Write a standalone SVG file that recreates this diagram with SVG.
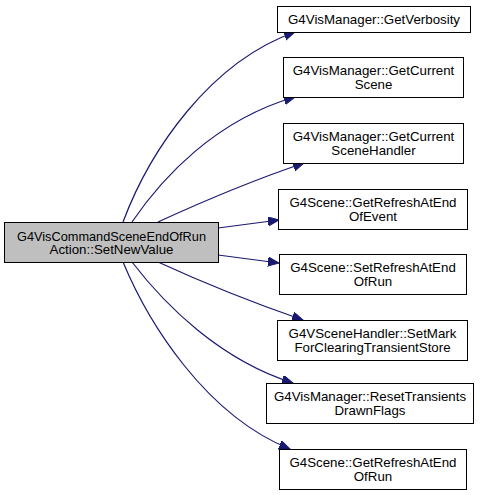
<svg xmlns="http://www.w3.org/2000/svg" width="483" height="495" viewBox="0 0 483 495">
<style>
.box{fill:#ffffff;stroke:#000000;stroke-width:1}
.main{fill:#bfbfbf;stroke:#000000;stroke-width:1}
text{font-family:"Liberation Sans",Arial,sans-serif;font-size:13.3px;fill:#000000;text-anchor:middle}
.edge{fill:none;stroke:#191970;stroke-width:1.2}
</style>
<defs>
<marker id="arr" markerUnits="userSpaceOnUse" markerWidth="12" markerHeight="10" refX="11" refY="4.5" orient="auto">
<path d="M0,0 L11,4.5 L0,9 z" fill="#191970" stroke="#191970" stroke-width="1"/>
</marker>
</defs>
<rect width="483" height="495" fill="#ffffff"/>
<g id="connectors">
<path class="edge" marker-end="url(#arr)" d="M123,222 C150,150 210,62 295,32"/>
<path class="edge" marker-end="url(#arr)" d="M132,222 C162,178 215,120 295,97"/>
<path class="edge" marker-end="url(#arr)" d="M158,222 C195,205 245,183 304,163"/>
<path class="edge" marker-end="url(#arr)" d="M218,228 L279,220"/>
<path class="edge" marker-end="url(#arr)" d="M218,255 L279,263"/>
<path class="edge" marker-end="url(#arr)" d="M158,262 C195,279 245,300 303,320"/>
<path class="edge" marker-end="url(#arr)" d="M132,262 C165,305 220,360 293,383"/>
<path class="edge" marker-end="url(#arr)" d="M123,262 C148,322 205,415 290,449"/>
</g>
<g id="node-main">
<rect class="main" x="4.5" y="222.5" width="214" height="40"/>
<text x="111.5" y="240.5" textLength="189" lengthAdjust="spacingAndGlyphs">G4VisCommandSceneEndOfRun</text>
<text x="111.5" y="254">Action::SetNewValue</text>
</g>
<g id="node-getverbosity">
<rect class="box" x="277.5" y="6.5" width="193" height="26"/>
<text x="374" y="24">G4VisManager::GetVerbosity</text>
</g>
<g id="node-getcurrentscene">
<rect class="box" x="283.5" y="57.5" width="180" height="40"/>
<text x="373.5" y="75">G4VisManager::GetCurrent</text>
<text x="373.5" y="88.5">Scene</text>
</g>
<g id="node-getcurrentscenehandler">
<rect class="box" x="283.5" y="123.5" width="180" height="40"/>
<text x="373.5" y="141">G4VisManager::GetCurrent</text>
<text x="373.5" y="154.5">SceneHandler</text>
</g>
<g id="node-getrefreshendofevent">
<rect class="box" x="278.5" y="189.5" width="189" height="40"/>
<text x="373" y="207">G4Scene::GetRefreshAtEnd</text>
<text x="373" y="220.5">OfEvent</text>
</g>
<g id="node-setrefreshendofrun">
<rect class="box" x="279.5" y="254.5" width="187" height="40"/>
<text x="373" y="272">G4Scene::SetRefreshAtEnd</text>
<text x="373" y="285.5">OfRun</text>
</g>
<g id="node-setmark">
<rect class="box" x="277.5" y="320.5" width="190" height="40"/>
<text x="372.5" y="338">G4VSceneHandler::SetMark</text>
<text x="372.5" y="351.5">ForClearingTransientStore</text>
</g>
<g id="node-resettransients">
<rect class="box" x="266.5" y="383.5" width="207" height="40"/>
<text x="370" y="401">G4VisManager::ResetTransients</text>
<text x="370" y="414.5">DrawnFlags</text>
</g>
<g id="node-getrefreshendofrun">
<rect class="box" x="279.5" y="449.5" width="187" height="40"/>
<text x="373" y="467">G4Scene::GetRefreshAtEnd</text>
<text x="373" y="480.5">OfRun</text>
</g>
</svg>
